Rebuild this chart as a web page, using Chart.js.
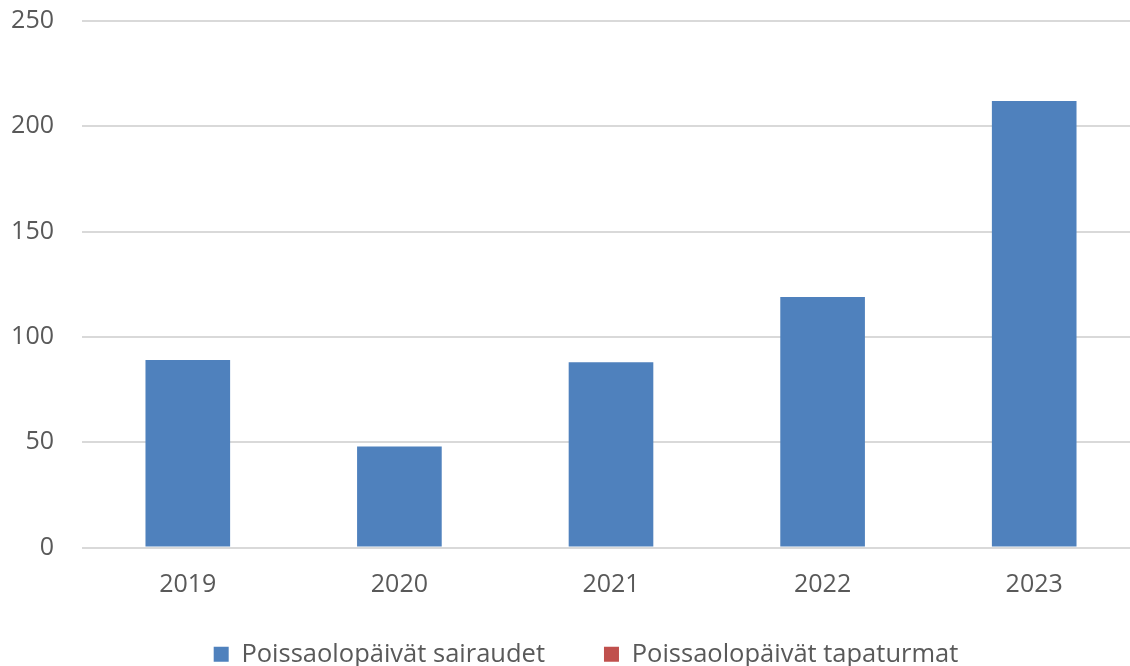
<!DOCTYPE html>
<html>
<head>
<meta charset="utf-8">
<script src="https://cdn.jsdelivr.net/npm/chart.js@4"></script>
<style>
  html, body { margin: 0; padding: 0; background: #fff; overflow: hidden; }
  #wrap { width: 1140px; height: 666px; }
</style>
</head>
<body>
<div id="wrap"><canvas id="myChart" width="1140" height="666"></canvas></div>
<script>
// data
const years = ["2019", "2020", "2021", "2022", "2023"];
const sairaudet = [89, 48, 88, 119, 212];
const tapaturmat = [0, 0, 0, 0, 0];
const seriesNames = ["Poissaolopäivät sairaudet", "Poissaolopäivät tapaturmat"];

const textColor = "#595959";
const fontFamily = "'Open Sans', 'Noto Sans', sans-serif";

const ctx = document.getElementById("myChart");

// nudge the legend a bit (it sits right of centre and close to the axis labels)
const legendShift = {
  id: "legendShift",
  afterLayout: (chart) => {
    const legend = chart.legend;
    legend.left += 12;
    legend.right += 12;
    legend.top -= 31;
    legend.bottom -= 31;
  },
};

const chartBuild = (ctx) => {
  const data = {
    labels: years,
    datasets: [
      {
        label: seriesNames[0],
        data: sairaudet,
        backgroundColor: "#4f81bd",
        barPercentage: 0.4,
        categoryPercentage: 1,
      },
      {
        label: seriesNames[1],
        data: tapaturmat,
        backgroundColor: "#c0504d",
        barPercentage: 0.4,
        categoryPercentage: 1,
      },
    ],
  };
  const config = {
    type: "bar",
    data: data,
    plugins: [legendShift],
    options: {
      responsive: false,
      animation: false,
      layout: {
        padding: { left: 8, right: 0, top: 21, bottom: -42 },
      },
      plugins: {
        tooltip: { enabled: false },
        legend: {
          position: "bottom",
          labels: {
            color: textColor,
            font: { family: fontFamily, size: 25.5 },
            boxWidth: 15,
            boxHeight: 15,
            padding: 59,
          },
        },
      },
      scales: {
        x: {
          stacked: true,
          grid: { display: false },
          border: { display: false },
          ticks: {
            color: textColor,
            font: { family: fontFamily, size: 25 },
            padding: 14,
          },
        },
        y: {
          stacked: true,
          min: 0,
          max: 250,
          grid: { color: "#d9d9d9", lineWidth: 2, drawTicks: false },
          border: { display: false },
          ticks: {
            stepSize: 50,
            color: textColor,
            font: { family: fontFamily, size: 25 },
            padding: 28,
          },
          afterFit: (scale) => {
            scale.width = 74;
            scale.paddingTop = 0;
          },
        },
      },
    },
  };
  return new Chart(ctx, config);
};

const poissaoloChart = chartBuild(ctx);
</script>
</body>
</html>
